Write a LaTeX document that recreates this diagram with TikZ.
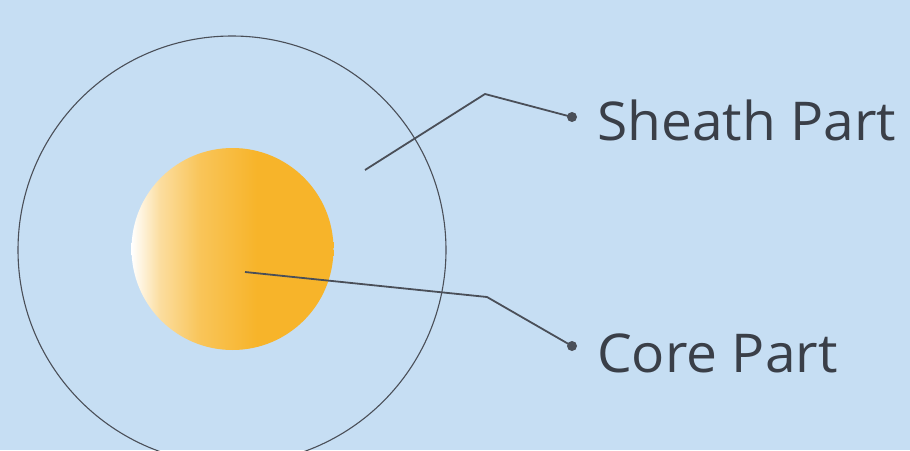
\documentclass[tikz,border=0pt]{standalone}
\usepackage{fontspec}
\setmainfont{Open Sans}
\definecolor{bgblue}{HTML}{C6DEF3}
\definecolor{linegray}{HTML}{4A4F58}
\definecolor{textgray}{HTML}{3A3F48}
\definecolor{coreorange}{HTML}{F7B42A}
\pgfdeclarehorizontalshading{coreshade}{100bp}{color(0bp)=(white); color(25bp)=(white); color(32bp)=(coreorange!45!white); color(42bp)=(coreorange!78!white); color(56bp)=(coreorange); color(100bp)=(coreorange)}
\tikzset{
  ring/.style={draw=linegray, line width=1.1pt},
  leader/.style={draw=linegray, line width=1.8pt, line join=miter},
  enddot/.style={circle, fill=linegray, inner sep=0pt, minimum size=10pt},
  label/.style={anchor=base west, inner sep=0pt, text=textgray, font=\fontsize{53.5}{60}\selectfont}
}
\newcommand{\widen}[1]{\scalebox{1.03}[1]{#1}}
\begin{document}
\begin{tikzpicture}[x=1pt,y=-1pt]
\fill[bgblue] (0,0) rectangle (910,450);
\useasboundingbox (0,0) rectangle (910,450);
\begin{scope}
\clip (0,0) rectangle (910,450);
\draw[ring] (232,250) circle[radius=214];
\end{scope}
\shade[shading=coreshade] (232.5,249) circle[radius=101];
% coordinates
\coordinate (sA) at (365,170);
\coordinate (sB) at (485,94);
\node[enddot] (sDot) at (572,117) {};
\coordinate (cA) at (245,272);
\coordinate (cB) at (487,297);
\node[enddot] (cDot) at (572,346) {};
\node[label] (sheath) at (597,140) {\widen{Sheath Part}};
\node[label] (core) at (597,372) {\widen{Core Part}};
\draw[leader] (sA) -- (sB) -- (sDot.center);
\draw[leader] (cA) -- (cB) -- (cDot.center);
\end{tikzpicture}
\end{document}
